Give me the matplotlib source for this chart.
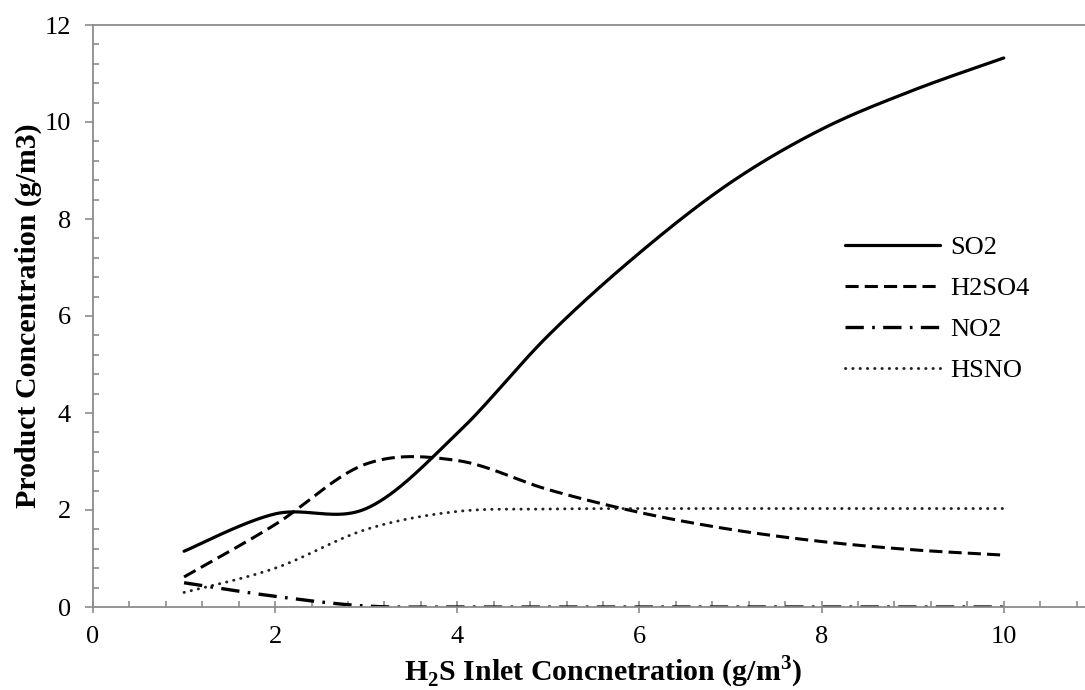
import numpy as np
import matplotlib
matplotlib.use("Agg")
import matplotlib.pyplot as plt
from matplotlib.ticker import MultipleLocator

plt.rcParams['font.family'] = ['Liberation Serif', 'DejaVu Serif']
plt.rcParams['mathtext.fontset'] = 'custom'
plt.rcParams['mathtext.rm'] = 'Liberation Serif'
plt.rcParams['mathtext.bf'] = 'Liberation Serif:bold'

# data
h2s_inlet = [1, 2, 3, 4, 5, 6, 7, 8, 9, 10]
so2 = [1.15, 1.92, 2.03, 3.58, 5.6, 7.3, 8.75, 9.85, 10.65, 11.32]
h2so4 = [0.62, 1.7, 2.95, 3.02, 2.42, 1.95, 1.6, 1.35, 1.18, 1.07]
no2 = [0.5, 0.22, 0.02, 0.0, 0.0, 0.0, 0.0, 0.0, 0.0, 0.0]
hsno = [0.3, 0.8, 1.6, 1.97, 2.02, 2.03, 2.03, 2.03, 2.03, 2.03]

GRAY = '#8c8c8c'


def smooth(x, y, n=40):
    # excel-like smoothed scatter line (catmull-rom bezier)
    p = np.column_stack([x, y]).astype(float)
    p = np.vstack([p[0], p, p[-1]])
    out = []
    for i in range(1, len(p) - 2):
        p0, p1, p2, p3 = p[i - 1], p[i], p[i + 1], p[i + 2]
        b1 = p1 + (p2 - p0) / 6
        b2 = p2 - (p3 - p1) / 6
        t = np.linspace(0, 1, n)[:, None]
        seg = ((1 - t) ** 3) * p1 + 3 * ((1 - t) ** 2) * t * b1 \
            + 3 * (1 - t) * t ** 2 * b2 + t ** 3 * p2
        out.append(seg if i == 1 else seg[1:])
    out = np.vstack(out)
    return out[:, 0], out[:, 1]


fig = plt.figure(figsize=(10.85, 6.9), dpi=100)
ax = fig.add_axes([93 / 1085, 1 - 607 / 690, 1020 / 1085, 582 / 690])

xs, ys = smooth(h2s_inlet, so2)
ax.plot(xs, ys, color='black', lw=2.3, solid_capstyle='round', label='SO2')
xs, ys = smooth(h2s_inlet, h2so4)
ax.plot(xs, ys, color='black', lw=2.2, dashes=(4.3, 2), label='H2SO4')
xs, ys = smooth(h2s_inlet, no2)
ax.plot(xs, ys, color='black', lw=2.4, dashes=(5.5, 2.5, 0.8, 2.5), label='NO2')
xs, ys = smooth(h2s_inlet, hsno)
ax.plot(xs, ys, color='#222222', lw=2.1, dashes=(0.1, 2.4),
        dash_capstyle='round', label='HSNO')

ax.set_xlim(0, 11.2)
ax.set_ylim(0, 12)
ax.xaxis.set_major_locator(MultipleLocator(2))
ax.xaxis.set_minor_locator(MultipleLocator(0.4))
ax.yaxis.set_major_locator(MultipleLocator(2))
ax.yaxis.set_minor_locator(MultipleLocator(0.4))

for s in ['left', 'bottom', 'top']:
    ax.spines[s].set_color(GRAY)
    ax.spines[s].set_linewidth(1.3)
ax.spines['right'].set_visible(False)

ax.tick_params(axis='x', which='major', direction='inout', length=9, width=1.2,
               color=GRAY, labelsize=19, pad=9, top=False)
ax.tick_params(axis='x', which='minor', direction='in', length=4, width=1.2,
               color=GRAY, top=False)
ax.tick_params(axis='y', which='major', direction='out', length=6, width=1.2,
               color=GRAY, labelsize=19, pad=10)
ax.tick_params(axis='y', which='minor', direction='in', length=4, width=1.2,
               color=GRAY)

ax.set_xlabel(r'H$_\mathbf{2}$S Inlet Concnetration (g/m$^\mathbf{3}$)',
              fontsize=21.5, fontweight='bold', labelpad=4)
ax.set_ylabel('Product Concentration (g/m3)', fontsize=21.5, fontweight='bold')
ax.yaxis.set_label_coords(-0.0637, 0.5)
ax.yaxis.label.set_va('center')

leg = ax.legend(loc='center left', bbox_to_anchor=(845 / 1085, 1 - 309 / 690),
                bbox_transform=fig.transFigure, frameon=False, fontsize=19,
                handlelength=3.6, handletextpad=0.38, labelspacing=0.67,
                borderpad=0, borderaxespad=0)

fig.savefig('out.png', dpi=100)
